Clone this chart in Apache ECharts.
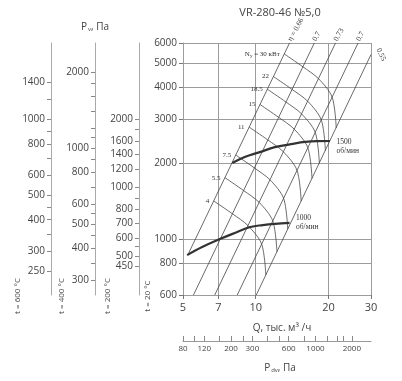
<!DOCTYPE html>
<html><head><meta charset="utf-8">
<script src="https://cdn.jsdelivr.net/npm/echarts@6/dist/echarts.min.js"></script>
<style>html,body{margin:0;padding:0;background:#fff}#c{width:402px;height:381px}</style>
</head><body><div id="c"></div>
<script>
// ---- axis ticks / labels ----
const qTicks = [5, 7, 10, 20, 30];
const pTicks = [600, 800, 1000, 2000, 3000, 4000, 5000, 6000];
const pdvLabels = [80, 120, 200, 300, 600, 1000, 2000];
const pdvTicks = [80, 100, 120, 160, 200, 250, 300, 400, 500, 600, 800, 1000, 1250, 1500, 1700, 2000];
const t200Labels = [450, 500, 600, 700, 800, 1000, 1200, 1400, 1600, 2000];
const t200Ticks = [450, 500, 550, 600, 700, 800, 900, 1000, 1200, 1400, 1600, 1800, 2000];
const t400Labels = [300, 400, 500, 600, 800, 1000, 2000];
const t400Ticks = [300, 350, 400, 450, 500, 550, 600, 700, 800, 900, 1000, 1100, 1200, 1400, 1600, 1800, 2000];
const t600Labels = [250, 300, 400, 500, 600, 800, 1000, 1400];
const t600Ticks = [250, 300, 350, 400, 450, 500, 600, 700, 800, 900, 1000, 1200, 1400];

// ---- fan curves (Q thousand m3/h, P Pa) ----
const rpm1500Q = [8.0, 9.0, 10.4, 12.0, 14.0, 16.0, 18.0, 20.3];
const rpm1500P = [2003, 2116, 2214, 2318, 2380, 2430, 2448, 2450];
const rpm1000Q = [5.2, 6.0, 7.1, 8.2, 9.5, 10.7, 12.0, 13.8];
const rpm1000P = [864, 930, 1000, 1058, 1117, 1137, 1150, 1160];

// ---- efficiency lines ----
const etaLabels = ['η = 0.66', '0.7', '0.73', '0.7', '0.55'];
const etaQ = [[5.23, 13.80], [5.525, 17.48], [6.765, 21.39], [8.385, 26.52], [10.05, 30]];
const etaP = [[864, 6000], [600, 6000], [600, 6000], [600, 6000], [600, 5400]];

// ---- power lines (kW) ----
const powerLabels = ['4', '5.5', '7.5', '11', '15', '18.5', '22', '30'];
const powerQ = [
  [6.70, 8.01, 9.29, 10.58, 11.01],
  [7.46, 8.91, 10.33, 11.76, 12.24],
  [8.27, 9.87, 11.45, 13.04, 13.57],
  [9.39, 11.22, 13.01, 14.82, 15.42],
  [10.42, 12.44, 14.43, 16.43, 17.10],
  [11.17, 13.34, 15.47, 17.63, 18.34],
  [11.84, 14.14, 16.40, 18.67, 19.43],
  [13.12, 15.67, 18.18, 20.71, 21.54]
];
const powerP = [
  [1417, 1260, 1131, 955, 720],
  [1753, 1558, 1399, 1181, 891],
  [2155, 1916, 1720, 1452, 1095],
  [2782, 2474, 2221, 1875, 1414],
  [3421, 3042, 2731, 2305, 1739],
  [3934, 3498, 3141, 2651, 2000],
  [4416, 3925, 3525, 2975, 2244],
  [5430, 4828, 4334, 3659, 2759]
];

const FONT = '"Open Sans", sans-serif';
const SERIF = '"Liberation Serif", serif';
const TXT = '#444';
const GRID = '#9c9c9c';
const plain = v => String(Math.round(v));

function auxAxis(offset, min, max, labels, ticks) {
  return {
    type: 'log', position: 'left', offset: offset, min: min, max: max, logBase: 10,
    axisLine: {show: true, lineStyle: {color: '#aaa', width: 1}},
    axisTick: {show: true, length: 4, customValues: ticks, lineStyle: {color: '#888'}},
    axisLabel: {customValues: labels, formatter: plain, margin: 6, fontSize: 10, color: TXT, fontFamily: FONT},
    splitLine: {show: false}, minorTick: {show: false}
  };
}

const hiddenSym = {showSymbol: true, symbol: 'circle', symbolSize: 1, itemStyle: {color: 'rgba(0,0,0,0)'}};

const series = [];
function rpmSeries(Q, P, text, off) {
  const data = Q.map((q, i) => [q, P[i]]);
  const last = data.length - 1;
  data[last] = {value: data[last], label: {show: true, position: 'right', distance: 6,
    offset: [0, off], formatter: text, fontSize: 7.5, lineHeight: 9, color: '#333', fontFamily: SERIF}};
  return Object.assign({type: 'line', xAxisIndex: 0, yAxisIndex: 0, data: data, smooth: 0.4,
    lineStyle: {color: '#333', width: 2.2}, z: 5, silent: true}, hiddenSym);
}
series.push(rpmSeries(rpm1500Q, rpm1500P, '1500\nоб/мин', 6));
series.push(rpmSeries(rpm1000Q, rpm1000P, '1000\nоб/мин', 0));

etaLabels.forEach((lab, k) => {
  const isLast = k === etaLabels.length - 1;
  const data = [[etaQ[k][0], etaP[k][0]], {value: [etaQ[k][1], etaP[k][1]], label: {show: true,
    position: 'top', distance: 2, align: 'left', verticalAlign: 'middle',
    rotate: isLast ? -65 : 60, offset: isLast ? [0, -8] : [0, 0],
    formatter: lab, fontSize: 7.5, color: '#333', fontFamily: SERIF}}];
  series.push(Object.assign({type: 'line', xAxisIndex: 0, yAxisIndex: 0, data: data,
    lineStyle: {color: '#444', width: 0.8}, z: 3, silent: true}, hiddenSym));
});

powerLabels.forEach((lab, k) => {
  const data = powerQ[k].map((q, i) => [q, powerP[k][i]]);
  const text = k === powerLabels.length - 1 ? '{n|N}{s|у}{n| = 30 кВт}' : lab;
  data[0] = {value: data[0], label: {show: true, position: 'left', distance: 4, formatter: text,
    fontSize: 7, color: '#333', fontFamily: SERIF,
    rich: {n: {fontSize: 7, fontFamily: SERIF, color: '#333'}, s: {fontSize: 5, fontFamily: SERIF, color: '#333', verticalAlign: 'bottom', padding: [3, 0, 0, 0]}}}};
  series.push(Object.assign({type: 'line', xAxisIndex: 0, yAxisIndex: 0, data: data, smooth: 0.3,
    lineStyle: {color: '#444', width: 0.8}, z: 3, silent: true}, hiddenSym));
});

const chart = echarts.init(document.getElementById('c'), null, {renderer: 'canvas'});
chart.setOption({
  animation: false,
  backgroundColor: '#fff',
  title: {text: 'VR-280-46 №5,0', left: 275, top: 2, textAlign: 'center',
    textStyle: {fontSize: 11, fontWeight: 'normal', color: TXT, fontFamily: FONT}},
  grid: {left: 183, right: 31, top: 43, bottom: 86, containLabel: false},
  xAxis: [
    {type: 'log', min: 5, max: 30, logBase: 10, position: 'bottom',
      name: 'Q, тыс. м³ /ч', nameLocation: 'middle', nameGap: 28,
      nameTextStyle: {fontSize: 10, color: TXT, fontFamily: FONT, padding: [0, 0, 0, 10]},
      axisLine: {show: true, lineStyle: {color: GRID}},
      axisTick: {show: true, length: 4, customValues: qTicks, lineStyle: {color: '#777'}},
      axisLabel: {customValues: qTicks, formatter: plain, margin: 7, fontSize: 11, color: TXT, fontFamily: FONT},
      splitLine: {show: true, lineStyle: {color: GRID, width: 1}}, minorTick: {show: false}},
    {type: 'log', min: 80, max: 2880, logBase: 10, position: 'bottom', offset: 46,
      name: '{a|P}{s|dv}{a|, Па}', nameLocation: 'middle', nameGap: 22,
      nameTextStyle: {fontSize: 10, color: TXT, fontFamily: FONT, padding: [0, 0, 0, 6],
        rich: {a: {fontSize: 10, color: TXT, fontFamily: FONT}, s: {fontSize: 6, color: TXT, fontFamily: FONT, padding: [4, 0, 0, 1]}}},
      axisLine: {show: true, lineStyle: {color: '#999'}},
      axisTick: {show: true, inside: true, length: 5, customValues: pdvTicks, lineStyle: {color: '#888'}},
      axisLabel: {customValues: pdvLabels, formatter: plain, margin: 4, fontSize: 8, color: TXT, fontFamily: FONT},
      splitLine: {show: false}, minorTick: {show: false}}
  ],
  yAxis: [
    {type: 'log', position: 'left', min: 600, max: 6000, logBase: 10,
      axisLine: {show: true, lineStyle: {color: GRID}},
      axisTick: {show: true, length: 4, customValues: pTicks, lineStyle: {color: '#777'}},
      axisLabel: {customValues: pTicks, formatter: plain, margin: 6, fontSize: 10, color: TXT, fontFamily: FONT},
      splitLine: {show: true, lineStyle: {color: GRID, width: 1}}, minorTick: {show: false}},
    auxAxis(44, 337, 4316, t200Labels, t200Ticks),
    auxAxis(88, 261, 2610, t400Labels, t400Ticks),
    auxAxis(132, 201, 2010, t600Labels, t600Ticks)
  ],
  graphic: [
    {type: 'text', x: 95, y: 27, style: {text: '{a|P}{s|v}{a|, Па}', align: 'center', verticalAlign: 'middle',
      rich: {a: {fontSize: 10, fill: TXT, fontFamily: FONT}, s: {fontSize: 6, fill: TXT, fontFamily: FONT, padding: [4, 0, 0, 1]}}}},
    {type: 'text', x: 18, y: 296, rotation: Math.PI / 2, style: {text: 't = 600 °C', align: 'center', verticalAlign: 'middle', fontSize: 8, fill: TXT, fontFamily: FONT}},
    {type: 'text', x: 62, y: 296, rotation: Math.PI / 2, style: {text: 't = 400 °C', align: 'center', verticalAlign: 'middle', fontSize: 8, fill: TXT, fontFamily: FONT}},
    {type: 'text', x: 108, y: 296, rotation: Math.PI / 2, style: {text: 't = 200 °C', align: 'center', verticalAlign: 'middle', fontSize: 8, fill: TXT, fontFamily: FONT}},
    {type: 'text', x: 148, y: 296, rotation: Math.PI / 2, style: {text: 't = 20 °C', align: 'center', verticalAlign: 'middle', fontSize: 8, fill: TXT, fontFamily: FONT}}
  ],
  series: series
});
</script></body></html>
